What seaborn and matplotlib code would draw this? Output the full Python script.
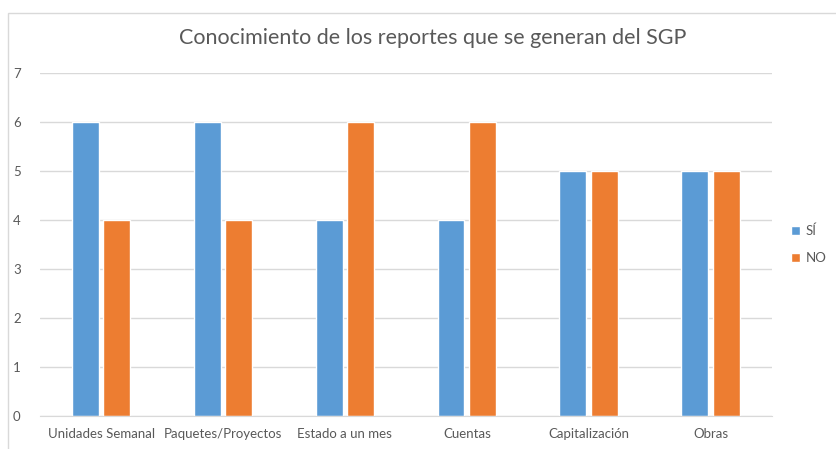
import pandas as pd
import matplotlib.pyplot as plt
import seaborn as sns
from matplotlib.patches import Rectangle

categorias = ['Unidades Semanal', 'Paquetes/Proyectos', 'Estado a un mes',
              'Cuentas', 'Capitalización', 'Obras']
si = [6, 6, 4, 4, 5, 5]
no = [4, 4, 6, 6, 5, 5]

df = pd.DataFrame({
    'categoria': categorias * 2,
    'valor': si + no,
    'respuesta': ['SÍ'] * len(si) + ['NO'] * len(no),
})

sns.set_style('white')
plt.rcParams['font.family'] = ['Lato', 'DejaVu Sans']

fig = plt.figure(figsize=(8.36, 4.49), dpi=100)
ax = fig.add_axes([0.048, 0.0735, 0.875, 0.764])
sns.barplot(data=df, x='categoria', y='valor', hue='respuesta',
            palette={'SÍ': '#5B9BD5', 'NO': '#ED7D31'},
            width=0.52, gap=0.15, ax=ax, saturation=1)

ax.set_ylim(0, 7)
ax.set_yticks(range(0, 8))
ax.set_xlim(-0.5, 5.5)
ax.yaxis.grid(True, color='#D9D9D9', linewidth=1)
ax.set_axisbelow(True)
for s in ['top', 'right', 'left']:
    ax.spines[s].set_visible(False)
ax.spines['bottom'].set_color('#D9D9D9')
ax.tick_params(axis='both', length=0, labelsize=9.5, colors='#595959')
ax.tick_params(axis='y', pad=14)
ax.tick_params(axis='x', pad=9)
ax.set_xlabel('')
ax.set_ylabel('')
fig.suptitle('Conocimiento de los reportes que se generan del SGP',
             x=0.518, y=0.937, fontsize=15.5, color='#595959')

ax.legend(title=None, frameon=False, loc='center left',
          bbox_to_anchor=(1.01, 0.5), fontsize=9.5, labelcolor='#595959',
          handlelength=0.7, handleheight=0.7, handletextpad=0.4,
          labelspacing=1.1)

fig.patches.append(Rectangle((8 / 836, -0.01), 1.0, 1 - 13 / 449 + 0.01,
                             transform=fig.transFigure, fill=False,
                             edgecolor='#D9D9D9', linewidth=1))

fig.savefig('out.png', dpi=100)
